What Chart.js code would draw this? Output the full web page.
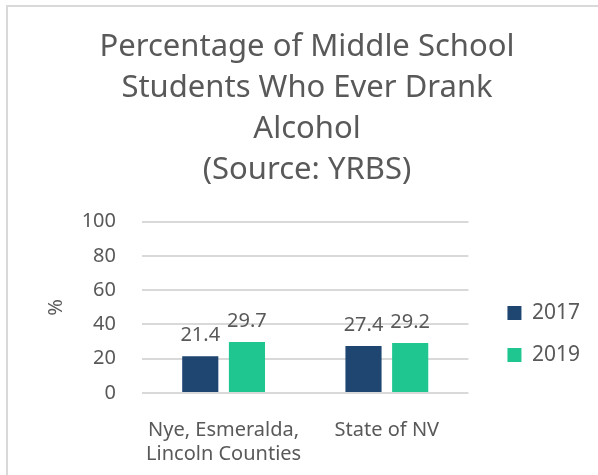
<!DOCTYPE html>
<html>
<head>
<meta charset="utf-8">
<script src="https://cdn.jsdelivr.net/npm/chart.js@4"></script>
<style>
  html, body { margin: 0; padding: 0; background: #fff; overflow: hidden; }
  #marco { position: absolute; left: 6px; top: 5px; width: 620px; height: 500px;
           border-left: 2px solid #d9d9d9; border-top: 2px solid #d9d9d9; }
  #myChart { position: absolute; left: 0; top: 0; }
</style>
</head>
<body>
<div id="marco"></div>
<canvas id="myChart" width="598" height="475"></canvas>
<script>
// Datos del gráfico
const categorias = [['Nye, Esmeralda,', 'Lincoln Counties'], 'State of NV'];
const serie2017 = [21.4, 27.4];
const serie2019 = [29.7, 29.2];
const ticksY = [0, 20, 40, 60, 80, 100];

const gris = '#595959';
const fuente = '"Noto Sans", "Open Sans", sans-serif';

// Plugin para escribir los valores encima de las barras
const etiquetasValores = {
    id: 'etiquetasValores',
    afterDatasetsDraw(chart) {
        const c = chart.ctx;
        c.save();
        c.font = '20px ' + fuente;
        c.fillStyle = gris;
        c.textAlign = 'center';
        c.textBaseline = 'bottom';
        chart.data.datasets.forEach((ds, i) => {
            chart.getDatasetMeta(i).data.forEach((bar, j) => {
                c.fillText(ds.data[j].toFixed(1), bar.x, bar.y - 11);
            });
        });
        c.restore();
    }
};

const ctx = document.getElementById('myChart').getContext('2d');
const myChart = new Chart(ctx, {
    type: 'bar',
    data: {
        labels: categorias,
        datasets: [{
            label: '2017',
            data: serie2017,
            backgroundColor: '#1f4571'
        }, {
            label: '2019',
            data: serie2019,
            backgroundColor: '#1fc690'
        }]
    },
    options: {
        responsive: false,
        animation: false,
        layout: { padding: { left: 24, right: 8, bottom: 0 } },
        datasets: {
            bar: { barPercentage: 0.774, categoryPercentage: 0.572 }
        },
        plugins: {
            title: {
                display: true,
                text: ['Percentage of Middle School', 'Students Who Ever Drank', 'Alcohol', '(Source: YRBS)'],
                color: gris,
                font: { family: fuente, size: 31, weight: 'normal', lineHeight: 1.32 },
                padding: { top: 27, bottom: 31 }
            },
            legend: {
                position: 'right',
                maxWidth: 150,
                title: { display: true, text: '', padding: { top: 169, bottom: 0 }, font: { size: 20 } },
                labels: {
                    color: gris,
                    font: { family: fuente, size: 21 },
                    boxWidth: 14,
                    boxHeight: 14,
                    padding: 21
                }
            },
            tooltip: { enabled: false }
        },
        scales: {
            x: {
                grid: { display: false },
                border: { display: false },
                ticks: {
                    color: gris,
                    font: { family: fuente, size: 20, lineHeight: 1.2 },
                    padding: 17,
                    maxRotation: 0,
                    autoSkip: false
                },
                afterFit(scale) { scale.height = 82; }
            },
            y: {
                min: 0,
                max: 100,
                afterBuildTicks(scale) {
                    scale.ticks = ticksY.map(v => ({ value: v }));
                },
                afterFit(scale) { scale.width = 118; },
                grid: { color: '#d9d9d9', lineWidth: 2, drawTicks: false },
                border: { display: false },
                ticks: { color: gris, font: { family: fuente, size: 20 }, padding: 26 },
                title: {
                    display: true, text: '%', color: gris,
                    font: { family: fuente, size: 20 },
                    padding: { top: 20, bottom: 4 }
                }
            },
            // eje vacío a la derecha: solo deja hueco entre el gráfico y la leyenda
            hueco: {
                type: 'linear',
                position: 'right',
                grid: { display: false },
                border: { display: false },
                ticks: { display: false },
                afterFit(scale) { scale.width = 18; }
            }
        }
    },
    plugins: [etiquetasValores]
});
</script>
</body>
</html>
